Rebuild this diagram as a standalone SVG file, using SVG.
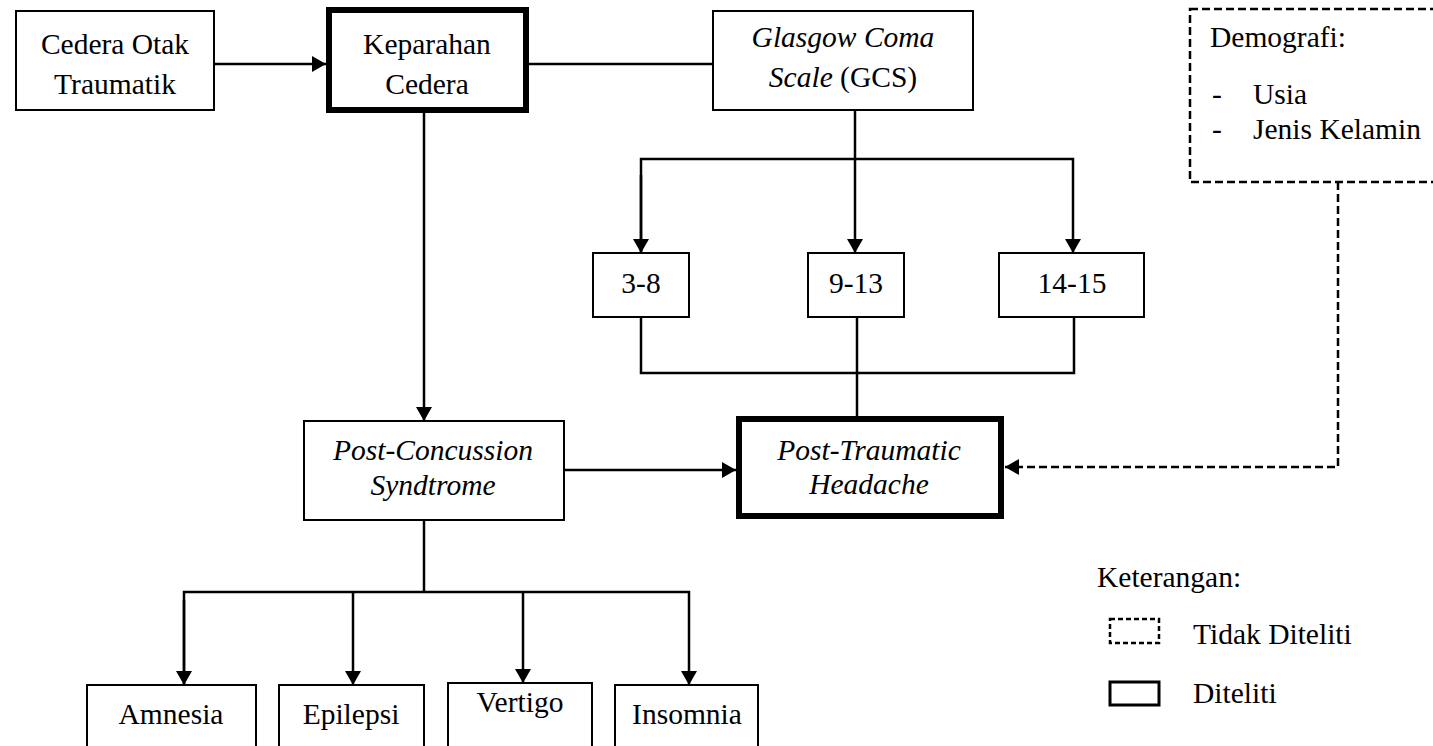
<svg xmlns="http://www.w3.org/2000/svg" width="1433" height="746" viewBox="0 0 1433 746">
<style>
text{font-family:"Liberation Serif","Times New Roman",serif;font-size:29.5px;fill:#000}
.c{text-anchor:middle}
.i{font-style:italic}
.box{fill:#fff;stroke:#000;stroke-width:2}
.thick{fill:#fff;stroke:#000;stroke-width:6}
.dash{fill:#fff;stroke:#000;stroke-width:2.5;stroke-dasharray:8 4}
.ln{fill:none;stroke:#000;stroke-width:2.5}
.dl{fill:none;stroke:#000;stroke-width:2.5;stroke-dasharray:8 4}
</style>
<defs>
<marker id="ah" viewBox="0 0 14 16" refX="14" refY="8" markerWidth="14" markerHeight="16" orient="auto" markerUnits="userSpaceOnUse">
<path d="M0,0 L14,8 L0,16 Z" fill="#000"/>
</marker>
</defs>
<rect width="1433" height="746" fill="#fff"/>
<g id="connectors">
<line class="ln" x1="214" y1="64" x2="326" y2="64" marker-end="url(#ah)"/>
<line class="ln" x1="529" y1="64" x2="713" y2="64"/>
<line class="ln" x1="424" y1="113" x2="424" y2="421" marker-end="url(#ah)"/>
<line class="ln" x1="855" y1="110" x2="855" y2="253" marker-end="url(#ah)"/>
<polyline class="ln" points="641,253 641,159 1073,159 1073,253" marker-end="url(#ah)"/>
<line class="ln" x1="641" y1="175" x2="641" y2="253" marker-end="url(#ah)"/>
<polyline class="ln" points="641,317 641,373 1074,373 1074,317"/>
<line class="ln" x1="857" y1="317" x2="857" y2="416"/>
<line class="ln" x1="564" y1="470" x2="736" y2="470" marker-end="url(#ah)"/>
<polyline class="dl" points="1338,182 1338,467 1005,467" marker-end="url(#ah)"/>
<line class="ln" x1="424" y1="520" x2="424" y2="592"/>
<polyline class="ln" points="184,685 184,592 689,592 689,685" marker-end="url(#ah)"/>
<line class="ln" x1="184" y1="600" x2="184" y2="685" marker-end="url(#ah)"/>
<line class="ln" x1="353" y1="592" x2="353" y2="685" marker-end="url(#ah)"/>
<line class="ln" x1="523" y1="592" x2="523" y2="683" marker-end="url(#ah)"/>
</g>
<g id="cedera-otak">
<rect class="box" x="16" y="11" width="198" height="99"/>
<text class="c" x="115" y="54">Cedera Otak</text>
<text class="c" x="115" y="94">Traumatik</text>
</g>
<g id="keparahan">
<rect class="thick" x="329" y="10" width="197" height="100"/>
<text class="c" x="427" y="54">Keparahan</text>
<text class="c" x="427" y="94">Cedera</text>
</g>
<g id="gcs">
<rect class="box" x="713" y="11" width="260" height="99"/>
<text class="c i" x="843" y="47">Glasgow Coma</text>
<text class="c" x="843" y="87"><tspan class="i">Scale</tspan> (GCS)</text>
</g>
<g id="demografi">
<rect class="dash" x="1190" y="9" width="260" height="173"/>
<text x="1210" y="47">Demografi:</text>
<text x="1212" y="104">-</text>
<text x="1253" y="104">Usia</text>
<text x="1212" y="139">-</text>
<text x="1253" y="139">Jenis Kelamin</text>
</g>
<g id="gcs-3-8">
<rect class="box" x="593" y="253" width="96" height="64"/>
<text class="c" x="641" y="293">3-8</text>
</g>
<g id="gcs-9-13">
<rect class="box" x="808" y="253" width="96" height="64"/>
<text class="c" x="856" y="293">9-13</text>
</g>
<g id="gcs-14-15">
<rect class="box" x="999" y="253" width="145" height="64"/>
<text class="c" x="1072" y="293">14-15</text>
</g>
<g id="pcs">
<rect class="box" x="304" y="421" width="260" height="99"/>
<text class="c i" x="433" y="460">Post-Concussion</text>
<text class="c i" x="433" y="495">Syndtrome</text>
</g>
<g id="pth">
<rect class="thick" x="739" y="419" width="262" height="97"/>
<text class="c i" x="869" y="460">Post-Traumatic</text>
<text class="c i" x="869" y="494">Headache</text>
</g>
<g id="amnesia">
<rect class="box" x="87" y="685" width="169" height="80"/>
<text class="c" x="171" y="724">Amnesia</text>
</g>
<g id="epilepsi">
<rect class="box" x="279" y="685" width="145" height="80"/>
<text class="c" x="351" y="724">Epilepsi</text>
</g>
<g id="vertigo">
<rect class="box" x="448" y="683" width="144" height="80"/>
<text class="c" x="520" y="712">Vertigo</text>
</g>
<g id="insomnia">
<rect class="box" x="615" y="685" width="143" height="80"/>
<text class="c" x="687" y="724">Insomnia</text>
</g>
<g id="legend">
<text x="1097" y="587">Keterangan:</text>
<rect class="dash" x="1110" y="619" width="49" height="24" style="stroke-dasharray:5 3"/>
<text x="1193" y="644">Tidak Diteliti</text>
<rect class="box" x="1110" y="682" width="49" height="23" style="stroke-width:3"/>
<text x="1193" y="703">Diteliti</text>
</g>
</svg>
